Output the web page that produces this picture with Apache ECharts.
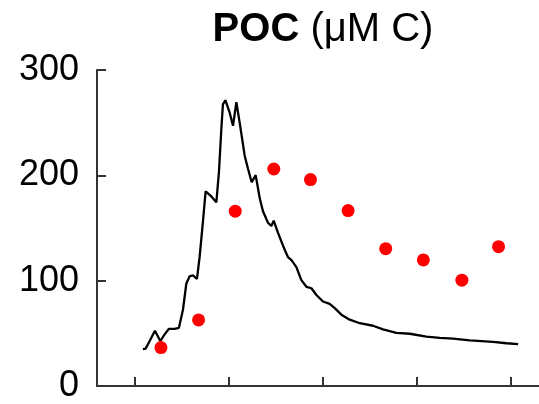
<!DOCTYPE html>
<html>
<head>
<meta charset="utf-8">
<script src="https://cdn.jsdelivr.net/npm/echarts@6/dist/echarts.min.js"></script>
<style>html,body{margin:0;padding:0;background:#fff}#c{width:539px;height:404px}</style>
</head>
<body>
<div id="c"></div>
<script>
// Model line (x, POC)
const lineX = [0.88,1.17,1.60,2.16,2.73,3.19,3.65,4.26,4.71,5.14,5.50,5.85,6.20,6.63,6.91,7.27,7.55,7.69,8.16,8.69,8.97,9.22,9.39,9.65,10.11,10.46,10.64,10.82,11.17,11.70,12.05,12.45,12.66,12.87,13.12,13.30,13.65,14.18,14.54,14.79,15.24,15.78,16.31,16.70,17.20,17.73,18.27,18.80,19.33,20.03,20.74,21.28,21.99,22.87,23.94,25.35,26.41,27.84,29.26,31.03,32.45,33.86,35.64,38.12,39.54,40.78];
const lineY = [35.0,35.5,42.7,52.4,42.7,49.0,54.3,54.3,55.2,72.4,97.3,104.2,105.1,101.7,122.3,156.6,184.7,185.2,180.0,174.4,203.4,243.9,267.3,271.3,259.5,247.0,247.0,269.4,250.1,218.9,206.5,193.4,192.4,200.2,187.7,178.4,165.9,155.0,151.9,156.9,145.6,133.2,122.3,119.2,112.9,100.5,94.2,92.8,86.4,80.2,78.0,73.9,67.7,63.0,59.6,57.2,53.7,50.5,49.6,46.8,45.6,44.9,43.4,41.8,40.6,39.7];
// Observations
const obsX = [2.8,6.8,10.7,14.8,18.7,22.7,26.7,30.7,34.8,38.7];
const obsY = [36.5,62.7,166,206,196,166.5,130.4,119.7,100.5,132.3];
const xTicks = [0,10,20,30,40];
const yTicks = [0,100,200,300];

const chart = echarts.init(document.getElementById('c'), null, {renderer:'canvas'});
const font = 'Liberation Sans, Arial, sans-serif';
chart.setOption({
  animation:false,
  backgroundColor:'#fff',
  title:{
    text:'{b|POC}{n| (μM C)}',
    left:318, textAlign:'center', top:5,
    textStyle:{rich:{
      b:{fontFamily:font,fontWeight:'bold',fontSize:40,color:'#000'},
      n:{fontFamily:font,fontWeight:'normal',fontSize:40,color:'#000'}
    }}
  },
  grid:{left:97,right:0,top:70,bottom:13,containLabel:false},
  xAxis:{
    type:'value', min:-4, max:43,
    axisLine:{show:true,onZero:false,lineStyle:{color:'#333',width:2}},
    axisTick:{show:true,inside:true,length:9,customValues:xTicks,lineStyle:{color:'#333',width:2}},
    axisLabel:{show:false},
    splitLine:{show:false}
  },
  yAxis:{
    type:'value', min:0, max:300, interval:100,
    axisLine:{show:true,onZero:false,lineStyle:{color:'#333',width:2}},
    axisTick:{show:true,inside:true,length:9,customValues:yTicks,lineStyle:{color:'#333',width:2}},
    axisLabel:{show:true,customValues:yTicks,fontFamily:font,fontSize:36,color:'#000',margin:18},
    splitLine:{show:false}
  },
  series:[
    {type:'line', data:lineX.map((x,i)=>[x,lineY[i]]), showSymbol:false, smooth:false,
     lineStyle:{color:'#000',width:2.3}, z:2},
    {type:'scatter', data:obsX.map((x,i)=>[x,obsY[i]]), symbol:'circle', symbolSize:13,
     itemStyle:{color:'#ff0000',opacity:1}, z:3}
  ]
});
</script>
</body>
</html>
